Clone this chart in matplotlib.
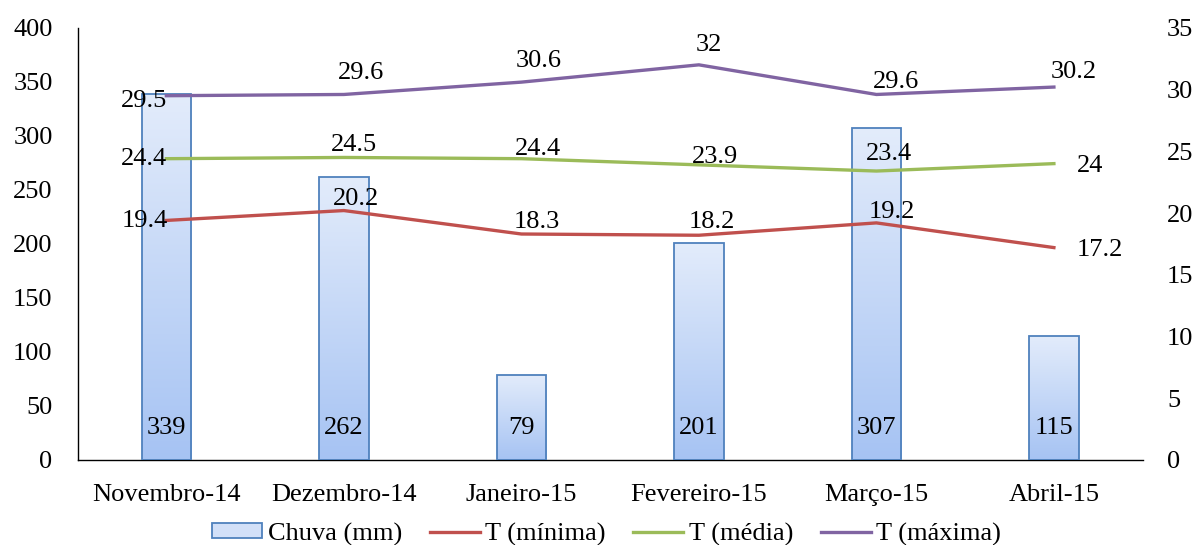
import numpy as np
import matplotlib
matplotlib.use("Agg")
import matplotlib.pyplot as plt
from matplotlib.colors import LinearSegmentedColormap
from matplotlib.patches import Patch
from matplotlib.lines import Line2D

plt.rcParams["font.family"] = ["Liberation Serif", "DejaVu Serif"]

# ── Data ────────────────────────────────────────────────────────────────────
meses  = ["Novembro-14", "Dezembro-14", "Janeiro-15", "Fevereiro-15", "Março-15", "Abril-15"]
chuva  = [339, 262, 79, 201, 307, 115]
t_min  = [19.4, 20.2, 18.3, 18.2, 19.2, 17.2]
t_med  = [24.4, 24.5, 24.4, 23.9, 23.4, 24]
t_max  = [29.5, 29.6, 30.6, 32, 29.6, 30.2]

# ── Style ───────────────────────────────────────────────────────────────────
C_MIN = "#C0504D"
C_MED = "#9BBB59"
C_MAX = "#8064A2"
EDGE  = "#4F81BD"
FS    = 19
LW    = 2.4

fig = plt.figure(figsize=(11.94, 5.45), dpi=100)
ax = fig.add_axes([0.065, 0.156, 0.892, 0.793])
ax2 = ax.twinx()

x = np.arange(len(meses))
bw = 0.28

# gradient bars (light top -> blue bottom)
cmap = LinearSegmentedColormap.from_list("bar", ["#E3ECFB", "#A6C3F3"])
grad = np.linspace(0, 1, 256).reshape(-1, 1)
bars = ax.bar(x, chuva, width=bw, facecolor="none", edgecolor=EDGE, lw=1.3, zorder=3)
for b in bars:
    x0, y0 = b.get_x(), b.get_y()
    w, h = b.get_width(), b.get_height()
    im = ax.imshow(grad, cmap=cmap, aspect="auto", extent=[x0, x0 + w, y0, y0 + h],
                   origin="upper", zorder=2)
    im.set_clip_path(b)
for xi, v in zip(x, chuva):
    ax.text(xi, 30, f"{v}", ha="center", va="center", fontsize=FS, zorder=5)

ax.set_xlim(-0.5, 5.5)
ax.set_ylim(0, 400)
ax.set_yticks(np.arange(0, 401, 50))
ax.set_xticks(x)
ax.set_xticklabels(meses)
ax.tick_params(axis="both", length=0, labelsize=FS)
ax.tick_params(axis="y", pad=18)
ax.tick_params(axis="x", pad=17)
for s in ["top", "right"]:
    ax.spines[s].set_visible(False)
for s in ["left", "bottom"]:
    ax.spines[s].set_color("black")
    ax.spines[s].set_linewidth(1.0)

ax2.set_ylim(0, 35)
ax2.set_yticks(np.arange(0, 36, 5))
ax2.tick_params(axis="y", length=0, labelsize=FS, pad=17.5)
for s in ax2.spines.values():
    s.set_visible(False)

ax2.plot(x, t_min, color=C_MIN, lw=LW, zorder=4)
ax2.plot(x, t_med, color=C_MED, lw=LW, zorder=4)
ax2.plot(x, t_max, color=C_MAX, lw=LW, zorder=4)

# label offsets in pixels (dx, dy), dy positive = up
off_max = [(-22, -5), (17, 21), (17, 21), (10, 20), (20, 12), (20, 15)]
off_med = [(-22, 0), (10, 12), (17, 10), (16, 8), (13, 17), (36, -2)]
off_min = [(-22, -1), (12, 12), (15, 12), (13, 13), (15, 11), (46, -2)]
for vals, offs in [(t_max, off_max), (t_med, off_med), (t_min, off_min)]:
    for xi, v, (dx, dy) in zip(x, vals, offs):
        ax2.annotate(f"{v:g}", (xi, v), xytext=(dx, dy), textcoords="offset pixels",
                     ha="center", va="center", fontsize=FS, zorder=6)

handles = [
    Patch(facecolor="#D2E0F8", edgecolor=EDGE, lw=1.3, label="Chuva (mm)"),
    Line2D([], [], color=C_MIN, lw=LW, label="T (mínima)"),
    Line2D([], [], color=C_MED, lw=LW, label="T (média)"),
    Line2D([], [], color=C_MAX, lw=LW, label="T (máxima)"),
]
fig.legend(handles=handles, loc="center", bbox_to_anchor=(0.508, 0.02), ncol=4,
           frameon=False, fontsize=FS, handlelength=1.9, handleheight=0.5,
           handletextpad=0.2, columnspacing=1.05)

fig.savefig("out.png", dpi=100)
